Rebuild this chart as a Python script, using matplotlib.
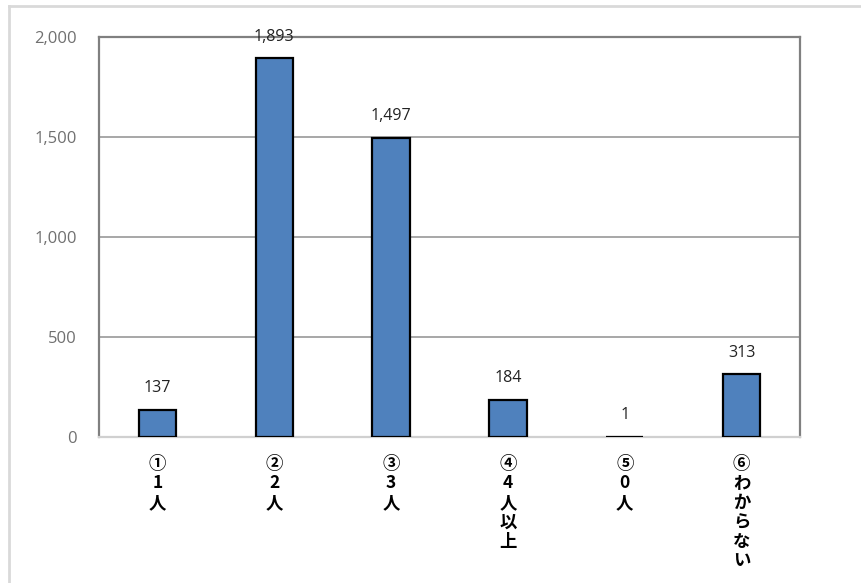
import matplotlib
matplotlib.use('Agg')
import matplotlib.pyplot as plt
from matplotlib.lines import Line2D

# data
categories = ['①1人', '②2人', '③3人', '④4人以上', '⑤0人', '⑥わからない']
counts = [137, 1893, 1497, 184, 1, 313]
yticks = [0, 500, 1000, 1500, 2000]

fig = plt.figure(figsize=(8.61, 5.83), dpi=100)
ax = fig.add_axes([99/861, 1-437/583, 701/861, 400/583])

x = list(range(len(categories)))
ax.bar(x, counts, width=0.32, color='#4F81BD', edgecolor='black', linewidth=1.6, zorder=3)

for xi, v in zip(x, counts):
    ax.annotate(f'{v:,}', (xi, v), xytext=(0, 10), textcoords='offset points',
                ha='center', va='bottom', fontsize=11.5, color='#222222', family='Open Sans')

ax.set_xlim(-0.5, len(categories) - 0.5)
ax.set_ylim(0, 2000)
ax.set_yticks(yticks)
ax.set_yticklabels([f'{t:,}' for t in yticks], color='#707070', fontsize=12, family='Open Sans')
ax.tick_params(axis='y', length=0, pad=16)
ax.grid(axis='y', color='#a0a0a0', linewidth=1.3, zorder=0)

ax.set_xticks(x)
ax.set_xticklabels(['\n'.join(c) for c in categories], fontsize=12.5, fontweight='bold',
                   family=['Noto Sans CJK JP', 'DejaVu Sans'], linespacing=1.1, va='top')
ax.tick_params(axis='x', length=0, pad=13)

for side in ['left', 'top', 'right']:
    ax.spines[side].set_color('#808080')
    ax.spines[side].set_linewidth(1.6)
ax.spines['bottom'].set_color('#d0d0d0')
ax.spines['bottom'].set_linewidth(1.6)

# outer chart frame (only top and left edges visible)
fig.add_artist(Line2D([9/861, 1], [1-6/583, 1-6/583], color='#d9d9d9', linewidth=2))
fig.add_artist(Line2D([9/861, 9/861], [0, 1-6/583], color='#d9d9d9', linewidth=2))

fig.savefig('out.png', dpi=100)
